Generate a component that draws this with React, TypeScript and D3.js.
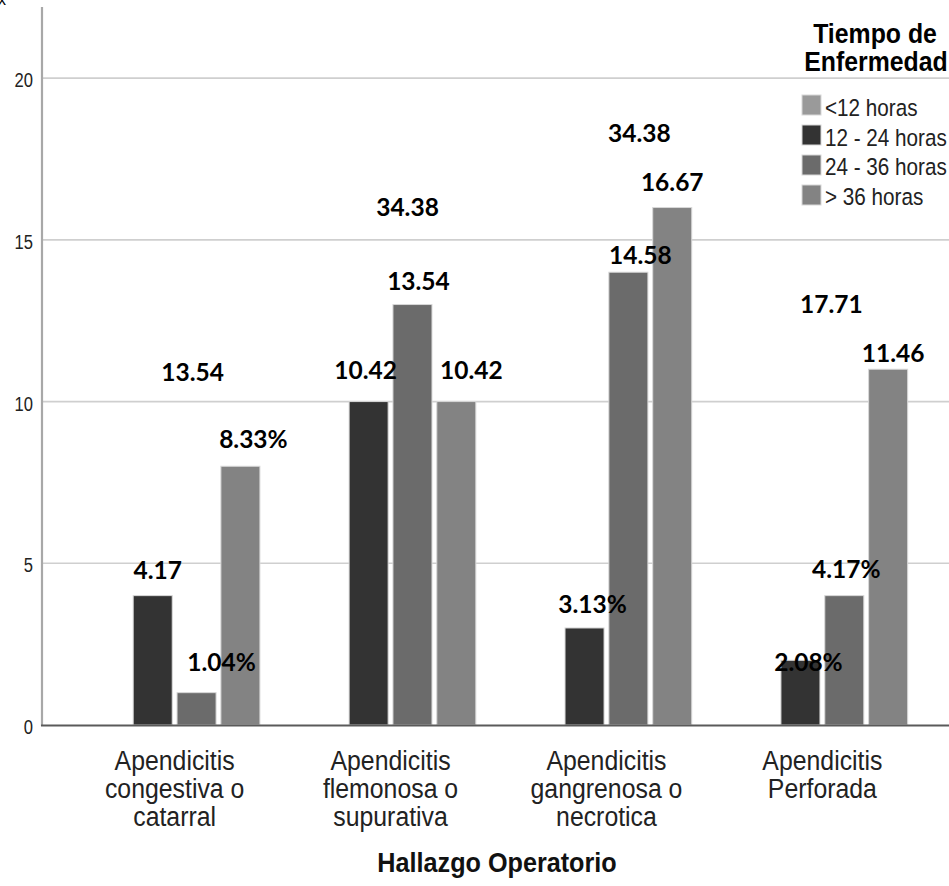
import React from "react";
import * as d3 from "d3";

const categories = [
  ["Apendicitis", "congestiva o", "catarral"],
  ["Apendicitis", "flemonosa o", "supurativa"],
  ["Apendicitis", "gangrenosa o", "necrotica"],
  ["Apendicitis", "Perforada"],
];
const seriesNames = ["<12 horas", "12 - 24 horas", "24 - 36 horas", "> 36 horas"];
const valuesLt12 = [0, 0, 0, 0];
const values12to24 = [4, 10, 3, 2];
const values24to36 = [1, 13, 14, 4];
const valuesGt36 = [8, 10, 16, 11];
const labelsLt12 = ["", "", "", ""];
const labels12to24 = ["4.17", "10.42", "3.13%", "2.08%"];
const labels24to36 = ["1.04%", "13.54", "14.58", "4.17%"];
const labelsGt36 = ["8.33%", "10.42", "16.67", "11.46"];
const totalLabels = ["13.54", "34.38", "34.38", "17.71"];
const yTicks = [0, 5, 10, 15, 20];

// manual label placement (px nudges from bar-top centre), as in the original
const nudges = [
  [[0, 0], [0, 0], [0, 0], [0, 0]],
  [[5, -25], [-3, -31], [8, -23], [8, 2]],
  [[25, -30], [6, -23], [12, -17], [2, -26]],
  [[13, -27], [15, -31], [0, -25], [5, -16]],
];
// total labels: px nudge x from group centre, y position in axis units
const totalNudgeX = [18, 17, 33, 9];
const totalAtY = [10.9, 16.0, 18.3, 13.0];

const colors = ["#9a9a9a", "#333333", "#6b6b6b", "#838383"];

export default function App() {
  const W = 949, H = 886;
  const series = [valuesLt12, values12to24, values24to36, valuesGt36];
  const labels = [labelsLt12, labels12to24, labels24to36, labelsGt36];
  const catIdx = categories.map((_, i) => String(i));
  const x0 = d3.scaleBand().domain(catIdx).range([44, 953]).padding(0.21);
  const x1 = d3.scaleBand().domain(seriesNames).range([0, x0.bandwidth()]).paddingInner(0.11);
  const y = d3.scaleLinear().domain([0, 22.2]).range([725, 7]);
  const regular = "'Liberation Sans', Arial, sans-serif";
  const bold = "Lato, 'Open Sans', sans-serif";

  return (
    <svg width={W} height={H} style={{ position: "absolute", left: 0, top: 0, background: "#fff" }}>
      <rect width={W} height={H} fill="#fff" />
      <text x={-2} y={5} fontFamily={regular} fontSize={16} fill="#000">x</text>
      {/* gridlines */}
      {yTicks.filter((t) => t > 0).map((t) => (
        <line key={t} x1={42} x2={W} y1={y(t)} y2={y(t)} stroke="#cfcfcf" strokeWidth={1.6} />
      ))}
      {/* y tick labels */}
      {yTicks.map((t) => (
        <text key={t} transform={`translate(33,${y(t) + 9}) scale(0.85,1)`} textAnchor="end"
          fontFamily={regular} fontSize={19.5} fill="#222">{t}</text>
      ))}
      {/* bars */}
      {categories.map((_, gi) =>
        series.map((vals, si) =>
          vals[gi] > 0 ? (
            <rect key={`${gi}-${si}`} x={(x0(String(gi)) as number) + (x1(seriesNames[si]) as number)}
              y={y(vals[gi])} width={x1.bandwidth()} height={y(0) - y(vals[gi])}
              fill={colors[si]} stroke="#d8d8d8" strokeWidth={1} />
          ) : null
        )
      )}
      {/* axes */}
      <line x1={42} x2={42} y1={7} y2={726} stroke="#a8a8a8" strokeWidth={2.2} />
      <line x1={41} x2={W} y1={725.5} y2={725.5} stroke="#5a5a5a" strokeWidth={2} />
      {/* bar value labels */}
      {categories.map((_, gi) =>
        series.map((vals, si) => {
          const txt = labels[si][gi];
          if (!txt) return null;
          const cx = (x0(String(gi)) as number) + (x1(seriesNames[si]) as number) + x1.bandwidth() / 2 + nudges[si][gi][0];
          const cy = y(vals[gi]) + nudges[si][gi][1];
          return (
            <text key={`l${gi}-${si}`} x={cx} y={cy + 8.5} textAnchor="middle" fontFamily={bold}
              fontWeight={700} fontSize={24.5} fill="#000">{txt}</text>
          );
        })
      )}
      {/* total labels */}
      {totalLabels.map((t, gi) => (
        <text key={`t${gi}`} x={(x0(String(gi)) as number) + x0.bandwidth() / 2 + totalNudgeX[gi]}
          y={y(totalAtY[gi]) + 8.5} textAnchor="middle" fontFamily={bold} fontWeight={700}
          fontSize={24.5} fill="#000">{t}</text>
      ))}
      {/* category labels */}
      {categories.map((lines, gi) => {
        const cx = (x0(String(gi)) as number) + x0.bandwidth() / 2;
        return (
          <text key={`c${gi}`} transform={`translate(${cx},770) scale(0.92,1)`}
            textAnchor="middle" fontFamily={regular} fontSize={27} fill="#222">
            {lines.map((ln, li) => (
              <tspan key={li} x={0} dy={li === 0 ? 0 : 28}>{ln}</tspan>
            ))}
          </text>
        );
      })}
      <text transform={`translate(497,872) scale(0.9,1)`} textAnchor="middle" fontFamily={regular}
        fontWeight={700} fontSize={28} fill="#111">Hallazgo Operatorio</text>
      {/* legend */}
      <text transform="translate(875,43) scale(0.92,1)" textAnchor="middle" fontFamily={regular}
        fontWeight={700} fontSize={27} fill="#000">
        <tspan x={0} dy={0}>Tiempo de</tspan>
        <tspan x={1} dy={28}>Enfermedad</tspan>
      </text>
      {seriesNames.map((s, i) => (
        <g key={s}>
          <rect x={802} y={95 + i * 30} width={19} height={20} fill={colors[i]} stroke="#d8d8d8" strokeWidth={1} />
          <text transform={`translate(825,${116 + i * 29.5}) scale(0.88,1)`} fontFamily={regular}
            fontSize={23.5} fill="#222">{s}</text>
        </g>
      ))}
    </svg>
  );
}
